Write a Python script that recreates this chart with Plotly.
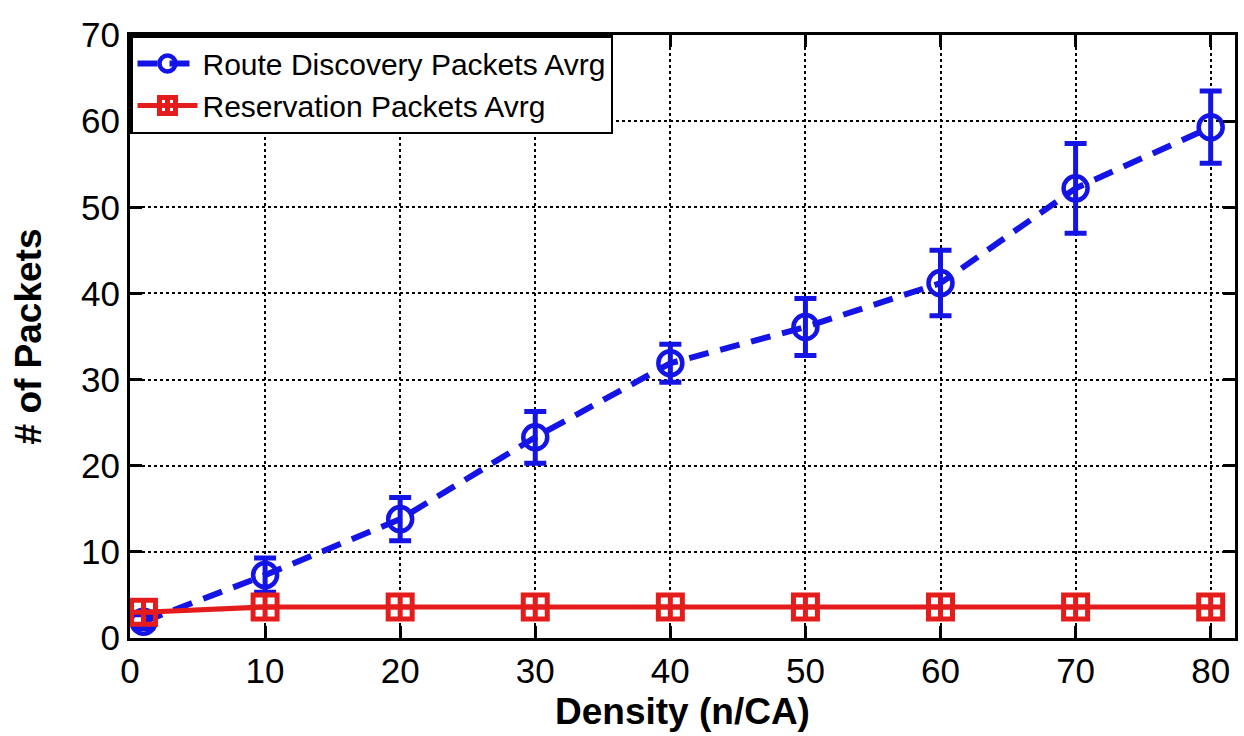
import plotly.graph_objects as go

density = [1, 10, 20, 30, 40, 50, 60, 70, 80]
route_avg = [1.9, 7.3, 13.8, 23.3, 31.9, 36.1, 41.2, 52.2, 59.3]
route_err = [0.8, 2.0, 2.5, 3.0, 2.2, 3.3, 3.8, 5.2, 4.2]
resv_avg = [3.0, 3.6, 3.6, 3.6, 3.6, 3.6, 3.6, 3.6, 3.6]

FONT = "Liberation Sans, Arial, Helvetica, sans-serif"
BLUE = "#1414e6"
RED = "#e41c1c"

fig = go.Figure()
fig.add_trace(go.Scatter(
    x=density, y=route_avg, mode="lines+markers",
    name="Route Discovery Packets Avrg",
    line=dict(color=BLUE, width=6, dash="20px,12px"),
    marker=dict(symbol="circle-open", size=24, color=BLUE, line=dict(width=4.5, color=BLUE)),
    error_y=dict(type="data", array=route_err, visible=True, color=BLUE, thickness=5, width=11),
))
fig.add_trace(go.Scatter(
    x=density, y=resv_avg, mode="lines+markers",
    name="Reservation Packets Avrg",
    line=dict(color=RED, width=5),
    marker=dict(symbol="square-cross-open", size=24, color=RED, line=dict(width=5, color=RED)),
))

axis_common = dict(
    showline=True, linecolor="black", linewidth=3, mirror="ticks",
    ticks="inside", ticklen=12, tickwidth=3, tickcolor="black",
    showgrid=True, gridcolor="black", gridwidth=1.5, griddash="dot",
    zeroline=False,
    tickfont=dict(family=FONT, size=35, color="black"),
)

fig.update_layout(
    width=1244, height=736,
    margin=dict(l=130, r=6, t=35, b=98),
    paper_bgcolor="white", plot_bgcolor="white",
    showlegend=True,
    legend=dict(x=0, y=1, xanchor="left", yanchor="top",
                bordercolor="black", borderwidth=2.5, bgcolor="white",
                font=dict(family=FONT, size=30, color="black"),
                tracegroupgap=0, itemwidth=60),
    xaxis=dict(range=[0, 81.8], tickvals=[0, 10, 20, 30, 40, 50, 60, 70, 80],
               title=dict(text="<b>Density (n/CA)</b>", font=dict(family=FONT, size=37, color="black"), standoff=10),
               **axis_common),
    yaxis=dict(range=[0, 70], tickvals=[0, 10, 20, 30, 40, 50, 60, 70],
               title=dict(text="<b># of Packets</b>", font=dict(family=FONT, size=37, color="black"), standoff=29),
               **axis_common),
)

fig.write_html("out.html")
